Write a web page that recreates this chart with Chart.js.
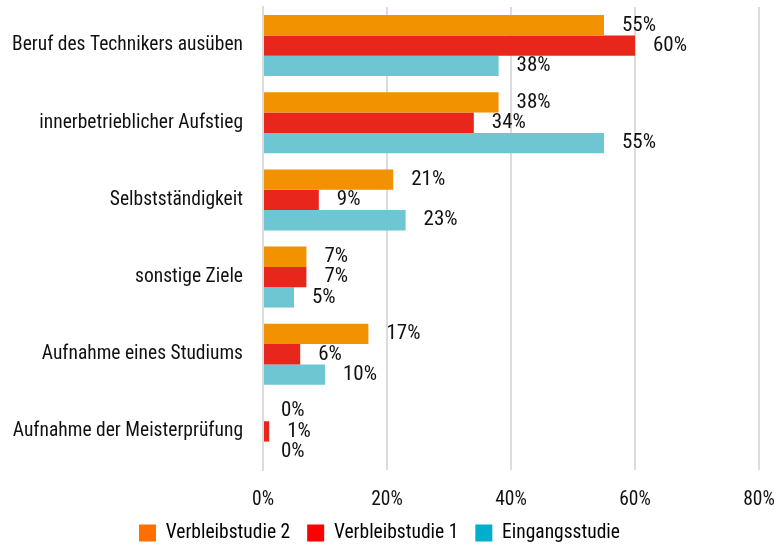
<!DOCTYPE html>
<html>
<head>
<meta charset="utf-8">
<script src="https://cdn.jsdelivr.net/npm/chart.js@4/dist/chart.umd.min.js"></script>
<style>
  html, body { margin: 0; padding: 0; background: #ffffff; }
  #wrap { width: 776px; height: 546px; position: relative; }
</style>
</head>
<body>
<div id="wrap"><canvas id="c"></canvas></div>
<script>
const categories = [
  "Beruf des Technikers ausüben",
  "innerbetrieblicher Aufstieg",
  "Selbstständigkeit",
  "sonstige Ziele",
  "Aufnahme eines Studiums",
  "Aufnahme der Meisterprüfung"
];
const seriesNames = ["Verbleibstudie 2", "Verbleibstudie 1", "Eingangsstudie"];
const verbleib2 = [55, 38, 21, 7, 17, 0];
const verbleib1 = [60, 34, 9, 7, 6, 1];
const eingang = [38, 55, 23, 5, 10, 0];
const xTicks = [0, 20, 40, 60, 80];

const FONT = "'Roboto Condensed', 'Liberation Sans', sans-serif";
const FS = 19.5;
const LABEL_FS = 21;
const barColors = ["#F39200", "#E8261C", "#6EC6D2"];
const legendColors = ["#FF6F00", "#FF0000", "#00AFCB"];

const valueLabels = {
  id: 'valueLabels',
  afterDatasetsDraw(chart) {
    const ctx = chart.ctx;
    ctx.save();
    ctx.font = LABEL_FS + "px " + FONT;
    ctx.fillStyle = "#111111";
    ctx.textAlign = "left";
    ctx.textBaseline = "middle";
    chart.data.datasets.forEach((ds, di) => {
      const meta = chart.getDatasetMeta(di);
      meta.data.forEach((bar, i) => {
        ctx.fillText(ds.data[i] + "%", bar.x + 18, bar.y);
      });
    });
    ctx.restore();
  }
};

new Chart(document.getElementById('c'), {
  type: 'bar',
  data: {
    labels: categories,
    datasets: [
      { label: seriesNames[0], data: verbleib2, backgroundColor: barColors[0] },
      { label: seriesNames[1], data: verbleib1, backgroundColor: barColors[1] },
      { label: seriesNames[2], data: eingang, backgroundColor: barColors[2] }
    ]
  },
  options: {
    indexAxis: 'y',
    responsive: true,
    maintainAspectRatio: false,
    animation: false,
    layout: { padding: { left: 0, right: 17, top: 7, bottom: -6.75 } },
    datasets: { bar: { categoryPercentage: 0.79, barPercentage: 1.0 } },
    scales: {
      x: {
        min: 0, max: 80,
        afterBuildTicks(axis) { axis.ticks = xTicks.map(v => ({ value: v })); },
        ticks: {
          font: { family: FONT, size: FS },
          color: "#111111",
          padding: 18,
          callback: v => v + "%"
        },
        grid: { color: "#dcdcdc", lineWidth: 2, drawTicks: false },
        border: { display: false },
        afterFit(axis) { axis.height = 36.25; axis.paddingLeft = 0; axis.paddingRight = 0; }
      },
      y: {
        ticks: {
          font: { family: FONT, size: FS },
          color: "#111111",
          padding: 20
        },
        grid: { display: false, drawTicks: false },
        border: { display: true, color: "#dcdcdc", width: 2 },
        afterFit(axis) { axis.width = 263; axis.paddingTop = 0; axis.paddingBottom = 0; }
      }
    },
    plugins: {
      legend: {
        position: 'bottom',
        labels: {
          font: { family: FONT, size: FS },
          color: "#111111",
          boxWidth: 17,
          boxHeight: 17,
          padding: 17,
          generateLabels(chart) {
            return chart.data.datasets.map((ds, i) => ({
              text: ds.label,
              fillStyle: legendColors[i],
              strokeStyle: legendColors[i],
              lineWidth: 0,
              hidden: false,
              datasetIndex: i
            }));
          }
        }
      },
      tooltip: { enabled: false }
    }
  },
  plugins: [valueLabels]
});
</script>
</body>
</html>
